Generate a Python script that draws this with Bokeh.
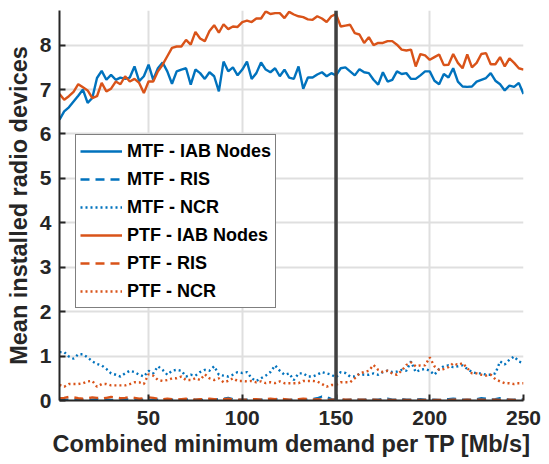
import numpy as np
from bokeh.plotting import figure
from bokeh.models import Span, Legend, LegendItem, FixedTicker, Range1d
from bokeh.embed import file_html
from bokeh.resources import INLINE

# x: combined minimum demand per TP [Mb/s]
demand = np.arange(2.5, 250.01, 2.5)

mtf_iab = [6.32, 6.51, 6.60, 6.73, 6.86, 7.00, 6.70, 6.81, 7.26, 7.42,
           7.22, 7.33, 7.22, 7.27, 7.24, 7.27, 7.52, 7.19, 7.30, 7.56,
           7.22, 7.48, 7.61, 7.41, 7.13, 7.41, 7.45, 7.48, 7.11, 7.45,
           7.37, 7.24, 7.39, 7.30, 6.96, 7.63, 7.41, 7.50, 7.32, 7.45,
           7.63, 7.24, 7.37, 7.61, 7.45, 7.39, 7.48, 7.30, 7.45, 7.27,
           7.24, 7.52, 7.02, 7.27, 7.27, 7.34, 7.39, 7.30, 7.37, 7.32,
           7.48, 7.50, 7.41, 7.32, 7.46, 7.39, 7.37, 7.22, 7.11, 7.39,
           7.18, 7.22, 7.41, 7.35, 7.37, 7.24, 7.24, 7.32, 7.41, 7.41,
           7.20, 7.12, 7.35, 7.27, 7.48, 7.18, 7.07, 7.06, 7.07, 7.18,
           7.22, 7.26, 7.37, 7.20, 7.12, 6.98, 7.09, 7.06, 7.15, 6.90]

mtf_ris = [0.02, 0.01, 0.02, 0.01, 0.02, 0.02, 0.01, 0.02, 0.03, 0.02,
           0.02, 0.01, 0.02, 0.02, 0.03, 0.02, 0.01, 0.02, 0.02, 0.01,
           0.02, 0.02, 0.01, 0.02, 0.02, 0.01, 0.02, 0.02, 0.03, 0.02,
           0.02, 0.01, 0.02, 0.02, 0.03, 0.04, 0.06, 0.03, 0.02, 0.02,
           0.02, 0.01, 0.02, 0.02, 0.01, 0.02, 0.03, 0.02, 0.02, 0.01,
           0.02, 0.03, 0.02, 0.02, 0.03, 0.05, 0.09, 0.08, 0.03, 0.02,
           0.02, 0.01, 0.02, 0.03, 0.02, 0.02, 0.03, 0.02, 0.02, 0.03,
           0.04, 0.02, 0.02, 0.03, 0.02, 0.02, 0.02, 0.03, 0.02, 0.02,
           0.02, 0.01, 0.02, 0.03, 0.04, 0.03, 0.02, 0.02, 0.02, 0.03,
           0.05, 0.04, 0.02, 0.03, 0.05, 0.04, 0.02, 0.02, 0.03, 0.02]

mtf_ncr = [1.09, 1.09, 0.99, 0.94, 1.04, 1.04, 0.97, 0.88, 0.82, 0.79,
           0.71, 0.61, 0.58, 0.54, 0.61, 0.67, 0.64, 0.58, 0.54, 0.67,
           0.61, 0.77, 0.69, 0.58, 0.67, 0.69, 0.67, 0.54, 0.58, 0.56,
           0.64, 0.69, 0.67, 0.77, 0.58, 0.56, 0.54, 0.58, 0.64, 0.62,
           0.64, 0.50, 0.44, 0.50, 0.56, 0.64, 0.79, 0.67, 0.58, 0.61,
           0.46, 0.61, 0.61, 0.54, 0.54, 0.58, 0.64, 0.61, 0.58, 0.52,
           0.64, 0.62, 0.54, 0.54, 0.60, 0.58, 0.58, 0.61, 0.58, 0.64,
           0.67, 0.64, 0.65, 0.69, 0.67, 0.88, 0.64, 0.69, 0.71, 0.67,
           0.58, 0.71, 0.77, 0.79, 0.75, 0.77, 0.79, 0.71, 0.64, 0.61,
           0.61, 0.58, 0.58, 0.61, 0.88, 0.81, 0.92, 0.99, 0.88, 0.84]

ptf_iab = [6.90, 6.77, 6.85, 6.95, 7.12, 7.05, 6.98, 6.81, 6.85, 7.15,
           6.96, 7.02, 7.18, 7.12, 7.30, 7.18, 7.24, 7.15, 6.92, 7.18,
           7.18, 7.41, 7.56, 7.75, 7.94, 7.97, 7.97, 8.12, 8.01, 8.30,
           8.15, 8.09, 8.32, 8.45, 8.28, 8.47, 8.36, 8.42, 8.41, 8.52,
           8.55, 8.52, 8.60, 8.60, 8.76, 8.70, 8.72, 8.72, 8.61, 8.75,
           8.69, 8.65, 8.63, 8.58, 8.57, 8.65, 8.60, 8.52, 8.65, 8.70,
           8.42, 8.44, 8.46, 8.27, 8.24, 8.05, 8.18, 8.00, 8.05, 8.05,
           8.09, 8.09, 8.01, 7.90, 7.88, 7.90, 7.52, 7.80, 7.77, 7.67,
           7.73, 7.79, 7.55, 7.56, 7.80, 7.60, 7.48, 7.79, 7.50, 7.60,
           7.80, 7.82, 7.57, 7.57, 7.73, 7.52, 7.70, 7.60, 7.48, 7.45]

ptf_ris = [0.05, 0.06, 0.08, 0.07, 0.05, 0.04, 0.05, 0.07, 0.06, 0.04,
           0.06, 0.08, 0.07, 0.05, 0.06, 0.08, 0.06, 0.04, 0.05, 0.07,
           0.06, 0.04, 0.03, 0.04, 0.03, 0.02, 0.03, 0.04, 0.03, 0.02,
           0.03, 0.03, 0.04, 0.03, 0.02, 0.03, 0.04, 0.03, 0.02, 0.02,
           0.02, 0.03, 0.03, 0.02, 0.03, 0.04, 0.03, 0.04, 0.03, 0.02,
           0.02, 0.03, 0.04, 0.03, 0.02, 0.03, 0.02, 0.01, 0.02, 0.02,
           0.03, 0.02, 0.02, 0.01, 0.02, 0.02, 0.01, 0.02, 0.01, 0.01,
           0.02, 0.01, 0.01, 0.02, 0.01, 0.01, 0.02, 0.01, 0.01, 0.02,
           0.01, 0.01, 0.02, 0.01, 0.02, 0.02, 0.01, 0.02, 0.01, 0.02,
           0.02, 0.01, 0.02, 0.02, 0.01, 0.02, 0.02, 0.01, 0.02, 0.02]

ptf_ncr = [0.35, 0.31, 0.37, 0.37, 0.37, 0.39, 0.43, 0.44, 0.31, 0.37,
           0.37, 0.34, 0.34, 0.34, 0.34, 0.37, 0.41, 0.41, 0.37, 0.59,
           0.56, 0.46, 0.44, 0.46, 0.50, 0.50, 0.54, 0.46, 0.46, 0.50,
           0.46, 0.59, 0.50, 0.46, 0.50, 0.41, 0.44, 0.50, 0.44, 0.44,
           0.43, 0.44, 0.41, 0.43, 0.39, 0.41, 0.39, 0.43, 0.39, 0.39,
           0.39, 0.39, 0.44, 0.44, 0.44, 0.43, 0.37, 0.31, 0.35, 0.35,
           0.41, 0.41, 0.41, 0.50, 0.61, 0.64, 0.67, 0.80, 0.69, 0.64,
           0.67, 0.61, 0.58, 0.67, 0.80, 0.86, 0.77, 0.79, 0.79, 0.97,
           0.77, 0.69, 0.71, 0.75, 0.84, 0.80, 0.84, 0.73, 0.61, 0.61,
           0.58, 0.56, 0.58, 0.48, 0.43, 0.39, 0.39, 0.37, 0.39, 0.39]

series_labels = ["MTF - IAB Nodes", "MTF - RIS", "MTF - NCR",
                 "PTF - IAB Nodes", "PTF - RIS", "PTF - NCR"]
x_ticks = [50, 100, 150, 200, 250]
y_ticks = [0, 1, 2, 3, 4, 5, 6, 7, 8]
threshold = 150

BLUE = "#0072BD"
ORANGE = "#D95319"
FONT = "Liberation Sans"

p = figure(width=541, height=464, output_backend="svg", toolbar_location=None,
           x_range=Range1d(2.5, 250), y_range=Range1d(0, 8.78),
           min_border_left=59, min_border_right=18, min_border_top=10,
           min_border_bottom=64)
p.outline_line_color = None
p.background_fill_color = "white"

styles = [(mtf_iab, BLUE, "solid"), (mtf_ris, BLUE, "9 6"), (mtf_ncr, BLUE, "2 3"),
          (ptf_iab, ORANGE, "solid"), (ptf_ris, ORANGE, "9 6"), (ptf_ncr, ORANGE, "2 3")]
renderers = []
for ys, col, dash in styles:
    r = p.line(demand, ys, line_color=col, line_width=2.4, line_dash=dash)
    renderers.append(r)

p.add_layout(Span(location=threshold, dimension="height", line_color="#404040",
                  line_width=3.5))

for ax in (p.xaxis[0], p.yaxis[0]):
    ax.axis_line_color = "#262626"
    ax.axis_line_width = 2
    ax.major_tick_line_color = "#262626"
    ax.major_tick_line_width = 2
    ax.major_tick_in = 6
    ax.major_tick_out = 0
    ax.minor_tick_line_color = None
    ax.major_label_text_font = FONT
    ax.major_label_text_font_style = "bold"
    ax.major_label_text_font_size = "21px"
    ax.major_label_text_color = "#262626"
    ax.axis_label_text_font = FONT
    ax.axis_label_text_font_style = "bold"
    ax.axis_label_text_font_size = "23.5px"
    ax.axis_label_text_color = "#262626"

p.xaxis[0].ticker = FixedTicker(ticks=x_ticks)
p.yaxis[0].ticker = FixedTicker(ticks=y_ticks)
p.xaxis[0].axis_label = "Combined minimum demand per TP [Mb/s]"
p.yaxis[0].axis_label = "Mean installed radio devices"
p.xaxis[0].major_label_standoff = 10
p.yaxis[0].major_label_standoff = 8
p.xaxis[0].axis_label_standoff = 3
p.yaxis[0].axis_label_standoff = 5

p.xgrid.grid_line_color = "#dfdfdf"
p.ygrid.grid_line_color = "#dfdfdf"
p.xgrid.grid_line_width = 2
p.ygrid.grid_line_width = 2

legend = Legend(items=[LegendItem(label=lab, renderers=[r])
                       for lab, r in zip(series_labels, renderers)],
                location=(16, 92))
legend.label_text_font = FONT
legend.label_text_font_style = "bold"
legend.label_text_font_size = "18px"
legend.label_text_color = "black"
legend.border_line_color = "black"
legend.border_line_width = 1.5
legend.background_fill_color = "white"
legend.background_fill_alpha = 1.0
legend.padding = 4
legend.spacing = 4
legend.margin = 0
legend.glyph_width = 42
legend.glyph_height = 24
legend.label_height = 24
legend.label_standoff = 5
p.add_layout(legend, "center")

open("out.html", "w").write(file_html(p, INLINE))
